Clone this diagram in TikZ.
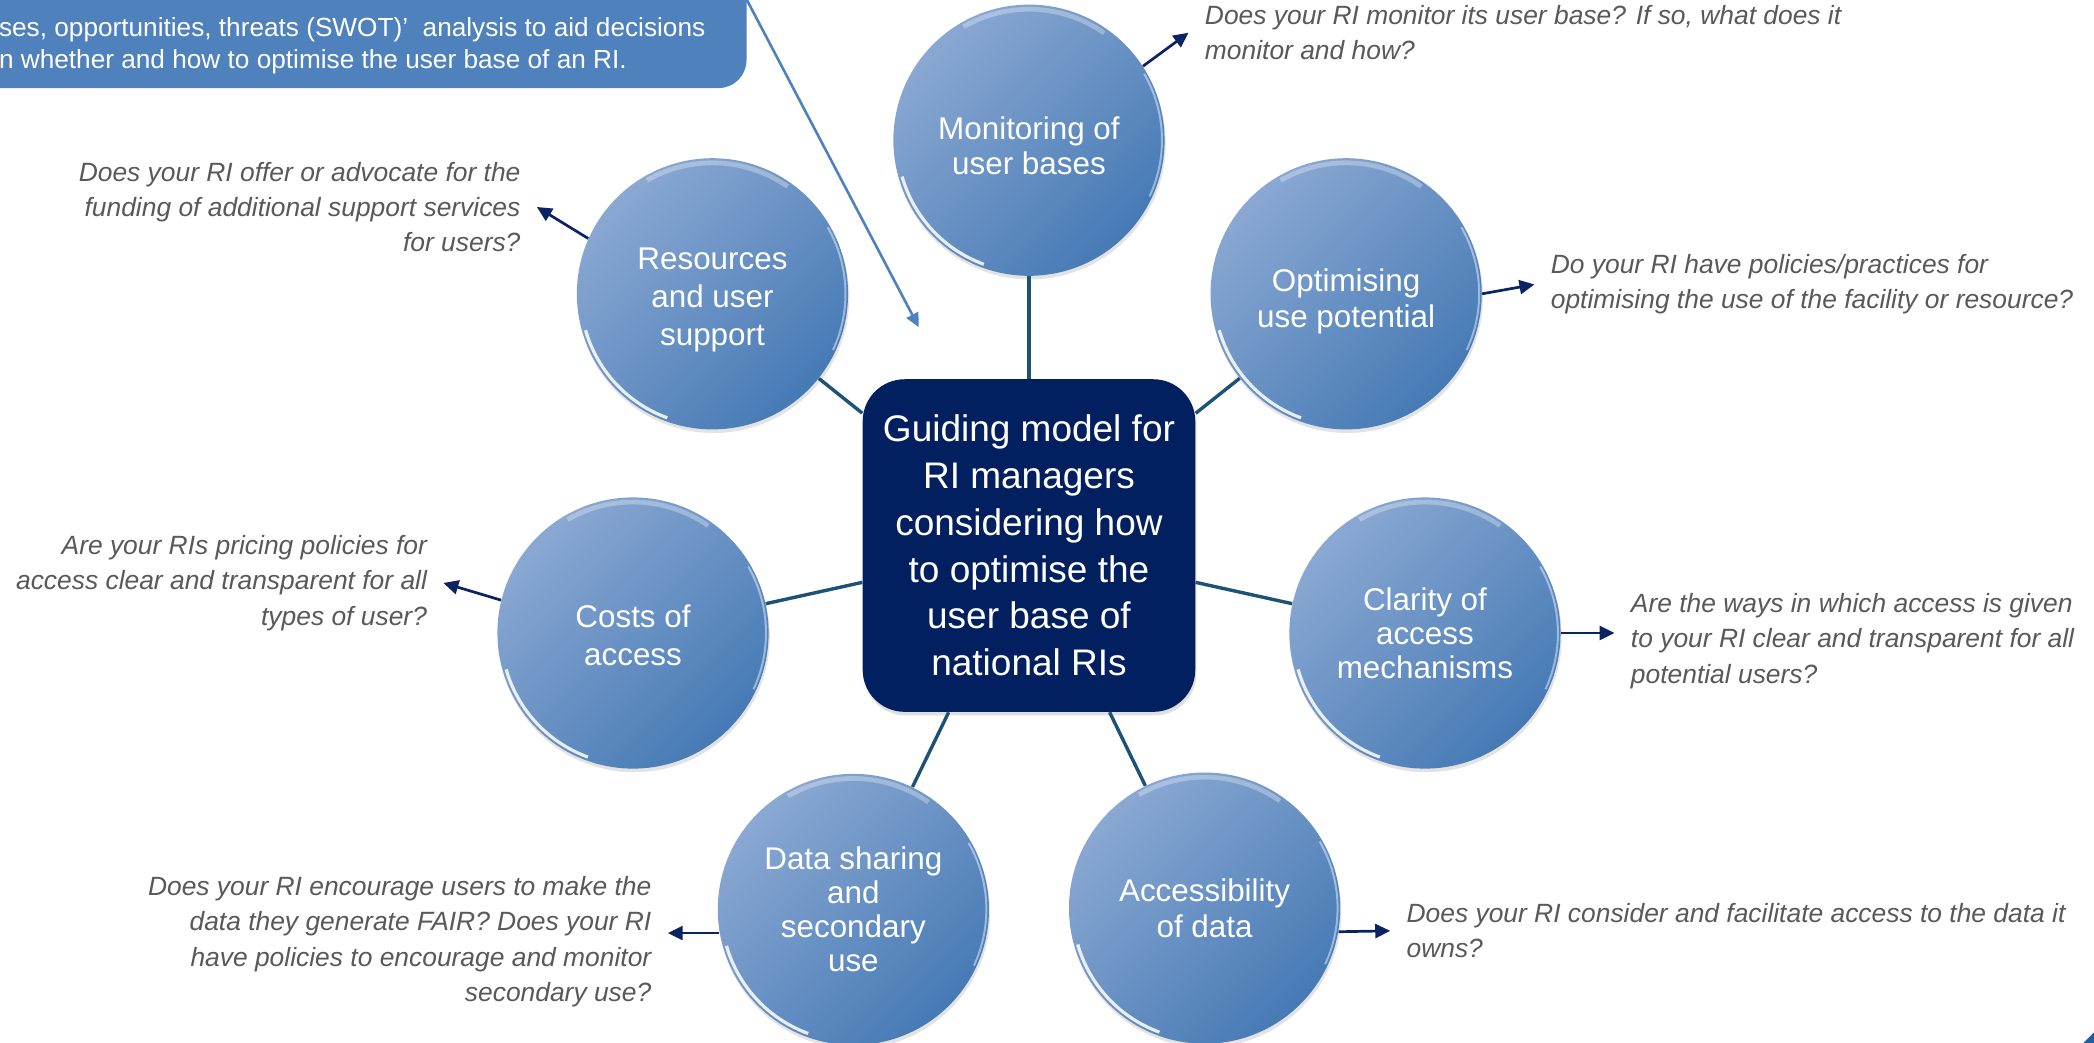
\documentclass[tikz,border=0pt]{standalone}
\usepackage{fontspec}
\setmainfont{Liberation Sans}
\usetikzlibrary{arrows.meta,shadows}

\definecolor{bubbletop}{RGB}{138,168,210}
\definecolor{bubblebot}{RGB}{70,122,181}
\definecolor{hubblue}{RGB}{2,32,96}
\definecolor{linkteal}{RGB}{28,82,120}
\definecolor{arrownavy}{RGB}{10,35,100}
\definecolor{notefill}{RGB}{79,129,189}
\definecolor{questgray}{RGB}{89,89,89}
\definecolor{cornerblue}{RGB}{31,95,160}

\tikzset{
  bubble/.style={circle, minimum size=135.6pt, inner sep=0pt,
    top color=bubbletop, bottom color=bubblebot, shading angle=45,
    drop shadow={opacity=.22, shadow xshift=.6pt, shadow yshift=-1.8pt},
    text=white, align=center, font=\fontsize{15.7pt}{19pt}\selectfont,
    path picture={
      \draw[white, line width=1.6pt, opacity=.85]
        (path picture bounding box.center) ++(196:66pt) arc (196:250:66pt);
      \draw[white, line width=2.4pt, opacity=.3]
        (path picture bounding box.center) ++(55:65.5pt) arc (55:120:65.5pt);
      \draw[white, line width=1pt, opacity=.45]
        (path picture bounding box.center) ++(-25:66.5pt) arc (-25:30:66.5pt);
    }},
  snug/.style={font=\fontsize{15.7pt}{17.7pt}\selectfont},
  tight/.style={font=\fontsize{15.7pt}{17.1pt}\selectfont},
  hub/.style={rectangle, rounded corners=21pt, fill=hubblue,
    minimum width=166.3pt, minimum height=166.3pt, inner sep=0pt,
    drop shadow={opacity=.25, shadow xshift=.6pt, shadow yshift=-1.8pt},
    text=white, align=center, font=\fontsize{18.5pt}{23.4pt}\selectfont},
  link/.style={draw=linkteal, line width=1.7pt},
  qarrow/.style={draw=arrownavy, line width=1.35pt,
    -{Triangle[length=7.5pt,width=7pt]}},
  question/.style={text=questgray, inner xsep=8pt, inner ysep=0pt,
    font=\fontsize{13.2pt}{17.7pt}\selectfont\itshape},
  notebox/.style={rectangle, rounded corners=14pt, fill=notefill, inner sep=0pt,
    minimum width=573.6pt, minimum height=88.1pt},
  notetxt/.style={text=white, inner sep=0pt, font=\fontsize{13.1pt}{16pt}\selectfont},
  pointer/.style={draw=notefill, line width=1.3pt,
    -{Triangle[length=7pt,width=6.5pt]}}
}

\begin{document}
\begin{tikzpicture}[x=0.66775pt, y=-0.66775pt]
    \useasboundingbox (0,0) rectangle (1568,781);
    \fill[white] (0,0) rectangle (1568,781);
    % Hinweis oben links
    \node[notebox] (note) at (129.5,0) {};
    \node[notetxt, anchor=base west] (noteB) at (-1,27)
        {ses, opportunities, threats (SWOT)’\ \ analysis to aid decisions};
    \node[notetxt, anchor=base west] (noteC) at (-1,51)
        {n whether and how to optimise the user base of an RI.};
    \coordinate (hint) at (688,245);
    \draw[pointer] (note.east) -- (hint);
    % Kreise
    \node[bubble, snug] (mon) at (770.5,105) {\rule{0pt}{16.7pt}Monitoring of\\user bases};
    \node[bubble] (res) at (533.5,220) {\rule{0pt}{16.7pt}Resources\\and user\\support};
    \node[bubble, snug] (opt) at (1008,220) {\rule{0pt}{18.9pt}Optimising\\use potential};
    \node[bubble] (cost) at (474,474) {\rule{0pt}{14pt}Costs of\\access};
    \node[bubble, tight] (clar) at (1067,474) {Clarity of\\access\\mechanisms};
    \node[bubble, tight] (share) at (639,681) {Data sharing\\and\\secondary\\use};
    \node[bubble, snug] (avail) at (902,680) {Accessibility\\of data};
    % Mitte
    \node[hub] (hub) at (770.5,408.5)
        {Guiding model for\\RI managers\\considering how\\to optimise the\\user base of\\national RIs};
    % Verbindungen
    \draw[link] (hub) -- (mon);
    \draw[link] (hub) -- (res);
    \draw[link] (hub) -- (opt);
    \draw[link] (hub) -- (cost);
    \draw[link] (hub) -- (clar);
    \draw[link] (hub) -- (share);
    \draw[link] (hub) -- (avail);
    % Fragen
    \node[question, align=left, anchor=west] (qmon) at (890,24.5)
        {Does your RI monitor its user base? If so, what does it\\monitor and how?};
    \node[question, align=right, anchor=east] (qres) at (402,155)
        {Does your RI offer or advocate for the\\funding of additional support services\\for users?};
    \node[question, align=left, anchor=west] (qopt) at (1149,213)
        {Do your RI have policies/practices for\\optimising the use of the facility or resource?};
    \node[question, align=right, anchor=east] (qcost) at (332,436.5)
        {Are your RIs pricing policies for\\access clear and transparent for all\\types of user?};
    \node[question, align=left, anchor=west] (qclar) at (1209,480)
        {Are the ways in which access is given\\to your RI clear and transparent for all\\potential users?};
    \node[question, align=right, anchor=east] (qshare) at (500,705)
        {Does your RI encourage users to make the\\data they generate FAIR? Does your RI\\have policies to encourage and monitor\\secondary use?};
    \node[question, align=left, anchor=west] (qavail) at (1041,697)
        {Does your RI consider and facilitate access to the data it\\owns?};
    % Pfeile zu den Fragen
    \draw[qarrow] (mon.33) -- (qmon.west);
    \draw[qarrow] (res.156) -- (qres.east);
    \draw[qarrow] (opt.0) -- (qopt.west);
    \draw[qarrow] (cost.166) -- (qcost.east);
    \draw[qarrow] (clar.0) -- (qclar.west |- clar.0);
    \draw[qarrow] (share.190) -- (qshare.east |- share.190);
    \draw[qarrow] (avail.-10) -- (qavail.west);
    % Ecke unten rechts
    \fill[cornerblue] (1568,773) -- (1568,781) -- (1560,781) -- cycle;
\end{tikzpicture}
\end{document}
